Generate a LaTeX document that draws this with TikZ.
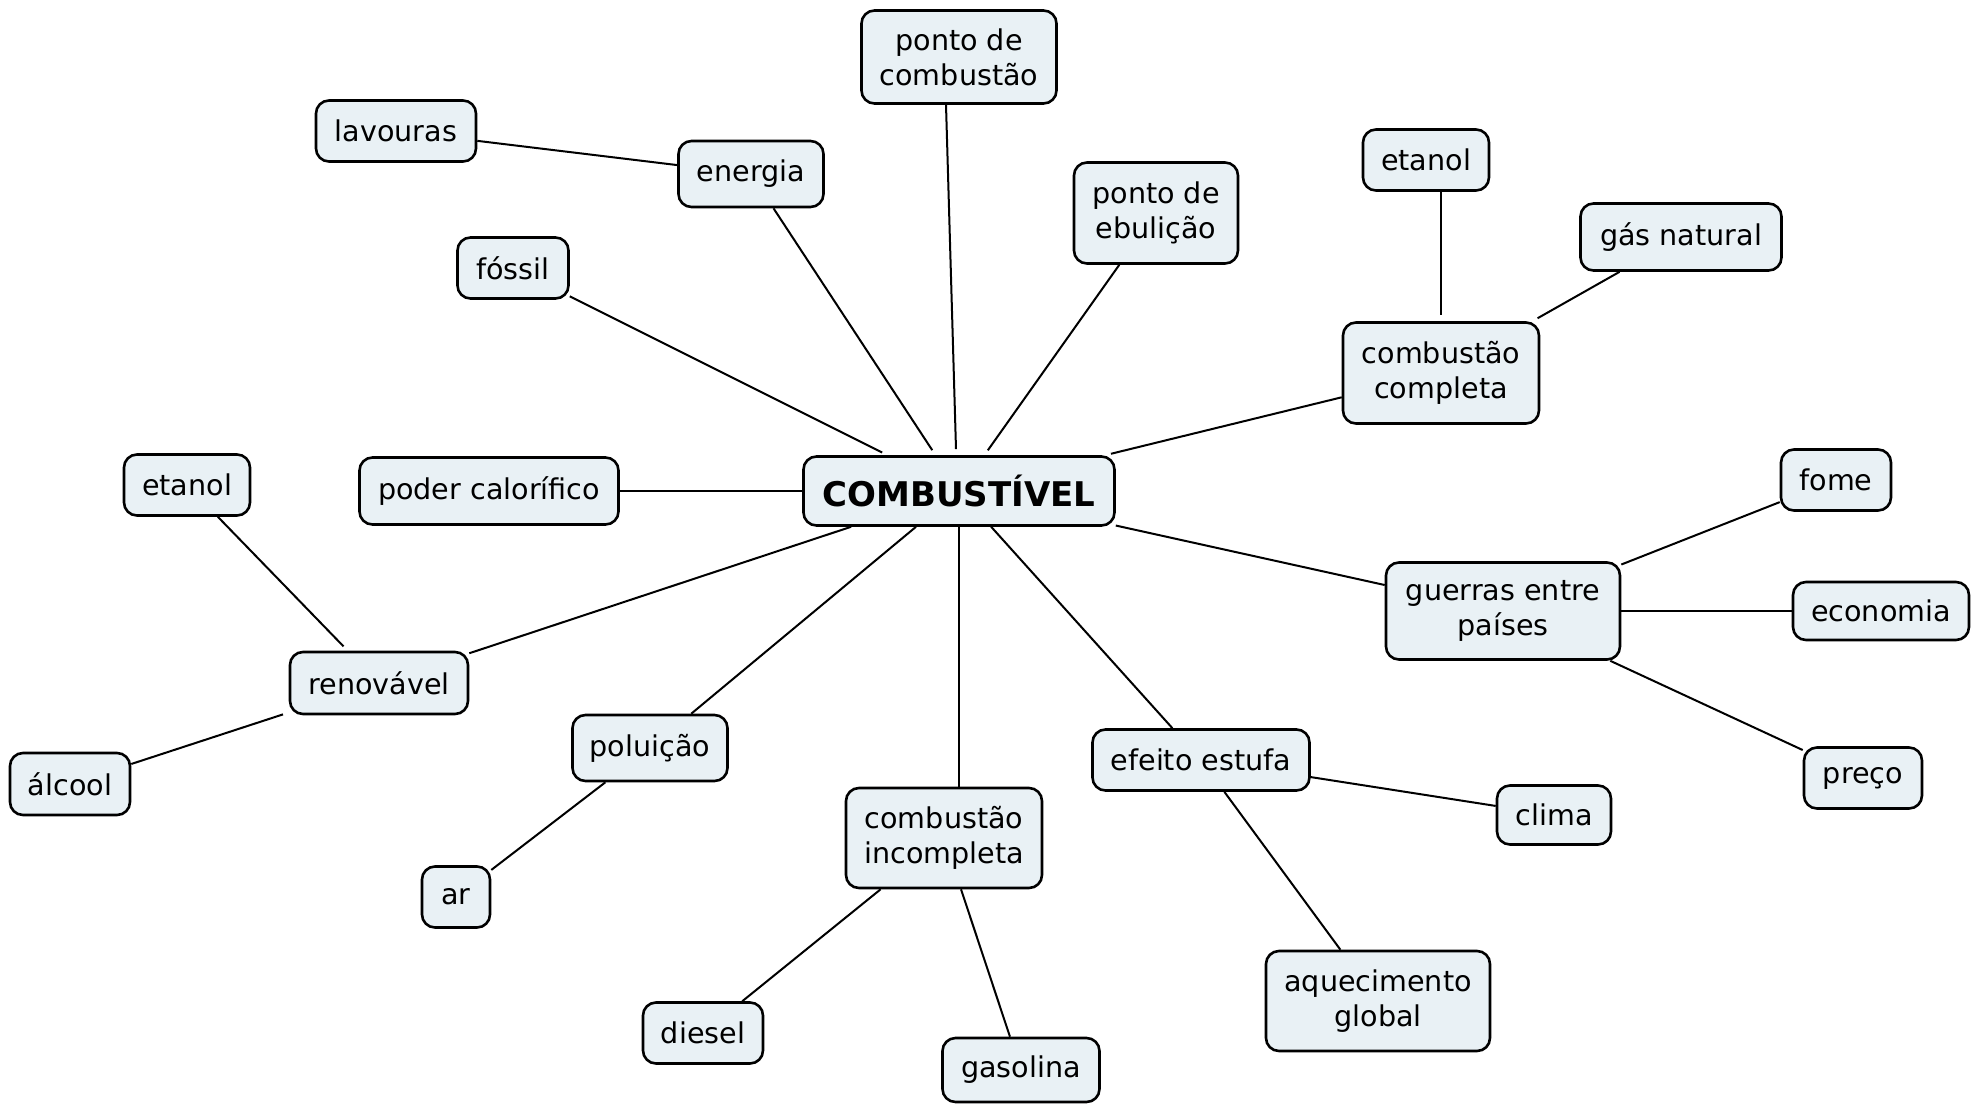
\documentclass[tikz,border=0pt]{standalone}
\usepackage{fontspec}
\setmainfont{DejaVu Sans}
\definecolor{boxfill}{RGB}{233,241,245}
\begin{document}
\begin{tikzpicture}[x=0.5pt,y=-0.5pt,
  concept/.style={draw=black, line width=1.3pt, fill=boxfill, rounded corners=6.5pt,
    align=center, inner sep=0pt, font=\fontsize{14.3}{17.5}\selectfont},
  sz/.style 2 args={minimum width=#1*0.5pt, minimum height=#2*0.5pt},
  link/.style={line width=1pt, draw=black},
  gapc/.style={shorten >=3pt}]
\useasboundingbox (0,0) rectangle (1981,1104);

% central concept
\node[concept, sz={311}{69}, font=\fontsize{17}{20}\selectfont\bfseries] (C) at (959,491) {COMBUSTÍVEL};

% surrounding concepts
\node[concept, sz={195}{93}]  (pcomb)   at (959,57)    {ponto de\\combustão};
\node[concept, sz={160}{61}]  (lav)     at (396,131)   {lavouras};
\node[concept, sz={145}{66}]  (ener)    at (751,174)   {energia};
\node[concept, sz={164}{101}] (pebul)   at (1156,213)  {ponto de\\ebulição};
\node[concept, sz={126}{61}]  (etaT)    at (1426,160)  {etanol};
\node[concept, sz={201}{67}]  (gas)     at (1681,237)  {gás natural};
\node[concept, sz={111}{61}]  (foss)    at (513,268)   {fóssil};
\node[concept, sz={196}{101}] (ccomp)   at (1441,373)  {combustão\\completa};
\node[concept, sz={259}{67}]  (poder)   at (489,491)   {poder calorífico};
\node[concept, sz={126}{61}]  (etaL)    at (187,485)   {etanol};
\node[concept, sz={110}{61}]  (fome)    at (1836,480)  {fome};
\node[concept, sz={234}{97}]  (guerras) at (1503,611)  {guerras entre\\países};
\node[concept, sz={176}{58}]  (econ)    at (1881,611)  {economia};
\node[concept, sz={178}{62}]  (renov)   at (379,683)   {renovável};
\node[concept, sz={120}{62}]  (alc)     at (70,784)    {álcool};
\node[concept, sz={155}{66}]  (polu)    at (650,748)   {poluição};
\node[concept, sz={217}{61}]  (efeito)  at (1201,760)  {efeito estufa};
\node[concept, sz={118}{61}]  (preco)   at (1863,778)  {preço};
\node[concept, sz={114}{59}]  (clima)   at (1554,815)  {clima};
\node[concept, sz={196}{100}] (cinc)    at (944,838)   {combustão\\incompleta};
\node[concept, sz={68}{61}]   (ar)      at (456,897)   {ar};
\node[concept, sz={224}{100}] (aquec)   at (1378,1001) {aquecimento\\global};
\node[concept, sz={120}{61}]  (diesel)  at (703,1033)  {diesel};
\node[concept, sz={157}{64}]  (gasol)   at (1021,1070) {gasolina};

% links to the central concept
\draw[link] ([xshift=-6.5pt]pcomb.south) -- ([xshift=-1.5pt,yshift=3pt]C.north);
\draw[link, gapc] (ener) -- (C);
\draw[link, gapc] (pebul) -- (C);
\draw[link, gapc] (foss) -- (C);
\draw[link, gapc] (ccomp) -- (C);
\draw[link] (poder) -- (C);
\draw[link] (C) -- (guerras);
\draw[link] (C) -- (renov);
\draw[link] (C) -- (polu);
\draw[link] (C.south) -- (C.south |- cinc.north);
\draw[link] (C) -- (efeito);

% secondary links
\draw[link] (lav) -- (ener);
\draw[link, shorten >=3pt] (etaT.south -| ccomp.north) -- (ccomp.north);
\draw[link, shorten >=3pt] (gas) -- (ccomp);
\draw[link] (guerras) -- (fome);
\draw[link] (guerras) -- (econ);
\draw[link] (guerras) -- (preco);
\draw[link, shorten >=3pt] (etaL) -- (renov);
\draw[link, shorten <=3pt] (renov) -- (alc);
\draw[link] (polu) -- (ar);
\draw[link] (efeito) -- (clima);
\draw[link] (efeito) -- (aquec);
\draw[link] (cinc) -- (diesel);
\draw[link] (cinc) -- (gasol);
\end{tikzpicture}
\end{document}
